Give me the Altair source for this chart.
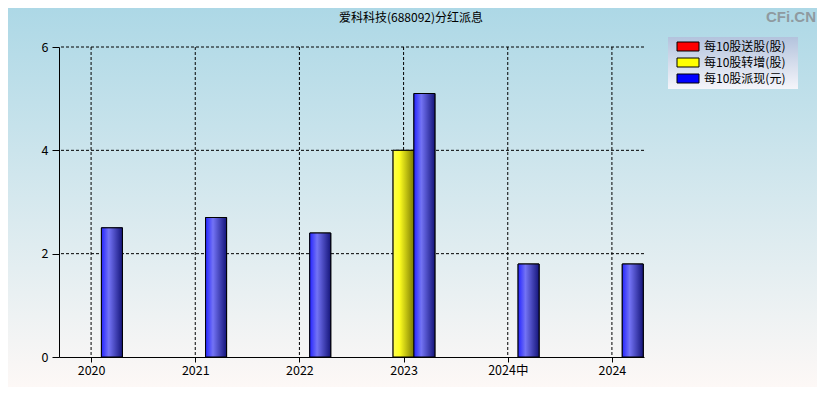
import altair as alt
import pandas as pd

# ---- data ----
categories = ["2020", "2021", "2022", "2023", "2024中", "2024"]
series_names = ["每10股送股(股)", "每10股转增(股)", "每10股派现(元)"]
song_gu = [0, 0, 0, 0, 0, 0]          # 每10股送股
zhuan_zeng = [0, 0, 0, 4.0, 0, 0]     # 每10股转增
pai_xian = [2.5, 2.7, 2.4, 5.1, 1.8, 1.8]  # 每10股派现
series_colors = ["#ff0000", "#ffff00", "#0000ff"]
y_ticks = [0, 2, 4, 6]

rows = []
for i, cat in enumerate(categories):
    for slot, (name, vals) in enumerate(zip(series_names, [song_gu, zhuan_zeng, pai_xian])):
        rows.append({"cat": cat, "idx": i, "slot": slot - 1, "series": name, "value": vals[i]})
df = pd.DataFrame(rows)
grid_x = pd.DataFrame({"pos": list(range(len(categories)))})
grid_y = pd.DataFrame({"value": y_ticks[1:]})

FONT = "Noto Sans CJK SC"
W, H = 585, 310
PAD = {"left": 51, "top": 39, "right": 173, "bottom": 30}

label_expr = "[" + ",".join("'%s'" % c for c in categories) + "][datum.value]"

x_scale = alt.Scale(domain=[-0.308, len(categories) - 1 + 0.308], nice=False, zero=False, padding=0)
y_scale = alt.Scale(domain=[0, 6], nice=False, padding=0)
x_enc = alt.X("pos:Q", scale=x_scale,
              axis=alt.Axis(values=list(range(len(categories))), labelExpr=label_expr, title=None,
                            grid=False, domainColor="black", tickColor="black", tickSize=5,
                            labelPadding=2, labelFontSize=12.5, labelColor="black", labelFont=FONT,
                            zindex=1))
y_enc = alt.Y("value:Q", scale=y_scale,
              axis=alt.Axis(values=y_ticks, title=None, grid=False, domainColor="black",
                            tickColor="black", tickSize=7, labelPadding=4,
                            labelFontSize=12.5, labelColor="black", labelFont=FONT, zindex=1))

bg_grad = alt.Gradient(gradient="linear",
                       stops=[alt.GradientStop(offset=0, color="#add8e6"),
                              alt.GradientStop(offset=1, color="#fdf8f6")],
                       x1=0, x2=0, y1=0, y2=1)
legend_grad = alt.Gradient(gradient="linear",
                           stops=[alt.GradientStop(offset=0, color="#b3c3dd"),
                                  alt.GradientStop(offset=1, color="#f5f5fa")],
                           x1=0, x2=0, y1=0, y2=1)
bar_grads = {
    series_names[0]: alt.Gradient(gradient="linear",
                                  stops=[alt.GradientStop(offset=0, color="#ff3030"),
                                         alt.GradientStop(offset=0.35, color="#ff8080"),
                                         alt.GradientStop(offset=1, color="#800000")],
                                  x1=0, x2=1, y1=0, y2=0),
    series_names[1]: alt.Gradient(gradient="linear",
                                  stops=[alt.GradientStop(offset=0, color="#ffff50"),
                                         alt.GradientStop(offset=0.3, color="#ffff20"),
                                         alt.GradientStop(offset=1, color="#7a7a00")],
                                  x1=0, x2=1, y1=0, y2=0),
    series_names[2]: alt.Gradient(gradient="linear",
                                  stops=[alt.GradientStop(offset=0, color="#2525ff"),
                                         alt.GradientStop(offset=0.35, color="#7373f5"),
                                         alt.GradientStop(offset=1, color="#15157a")],
                                  x1=0, x2=1, y1=0, y2=0),
}

one = pd.DataFrame({"a": [0]})
bg = alt.Chart(one).mark_rect(fill=bg_grad).encode(
    x=alt.value(-PAD["left"]), x2=alt.value(W + PAD["right"]),
    y=alt.value(-PAD["top"]), y2=alt.value(H + PAD["bottom"]))

legend_bg = alt.Chart(one).mark_rect(fill=legend_grad).encode(
    x=alt.value(609), x2=alt.value(739), y=alt.value(-10), y2=alt.value(42))

vgrid = alt.Chart(grid_x).mark_rule(color="black", strokeWidth=1, strokeDash=[3, 2]).encode(x=x_enc)
hgrid = alt.Chart(grid_y).mark_rule(color="black", strokeWidth=1, strokeDash=[3, 2]).encode(y=y_enc)

base = alt.Chart(df).transform_filter("datum.value > 0").transform_calculate(
    pos="datum.idx + datum.slot * 0.2")

bars = base.mark_bar(width=21, stroke="black", strokeWidth=1).encode(
    x=x_enc, y=y_enc,
    color=alt.Color("series:N",
                    scale=alt.Scale(domain=series_names, range=series_colors),
                    legend=alt.Legend(title=None, orient="none", legendX=619, legendY=-10.5,
                                      symbolType="M-2.2,-0.9H2.2V0.9H-2.2Z", symbolSize=100,
                                      symbolStrokeColor="black", symbolStrokeWidth=1,
                                      symbolOpacity=1, labelFontSize=12, labelFont=FONT,
                                      labelColor="black", rowPadding=2, labelOffset=10,
                                      padding=4)))

grad_layers = []
for name in series_names:
    grad_layers.append(
        base.transform_filter(alt.datum.series == name).mark_bar(
            width=21, fill=bar_grads[name], stroke="black", strokeWidth=1).encode(x=x_enc, y=y_enc))

title = alt.Chart(one).mark_text(
    text="爱科科技(688092)分红派息", align="center", baseline="middle", fontSize=12,
    font=FONT, color="black").encode(x=alt.value(352), y=alt.value(-29))

watermark = alt.Chart(one).mark_text(
    text="CFi.CN", align="right", baseline="middle", fontSize=15, fontWeight="bold",
    color="#8f9aa0", font="Liberation Sans").encode(x=alt.value(W + PAD["right"] - 1), y=alt.value(-30))

chart = alt.layer(bg, legend_bg, vgrid, hgrid, bars, *grad_layers, title, watermark).properties(
    width=W, height=H,
    autosize=alt.AutoSizeParams(type="none"),
    padding=PAD,
).configure_view(stroke=None).configure(background="white")

chart.save("out.html", embed_options={"renderer": "svg", "actions": False})
